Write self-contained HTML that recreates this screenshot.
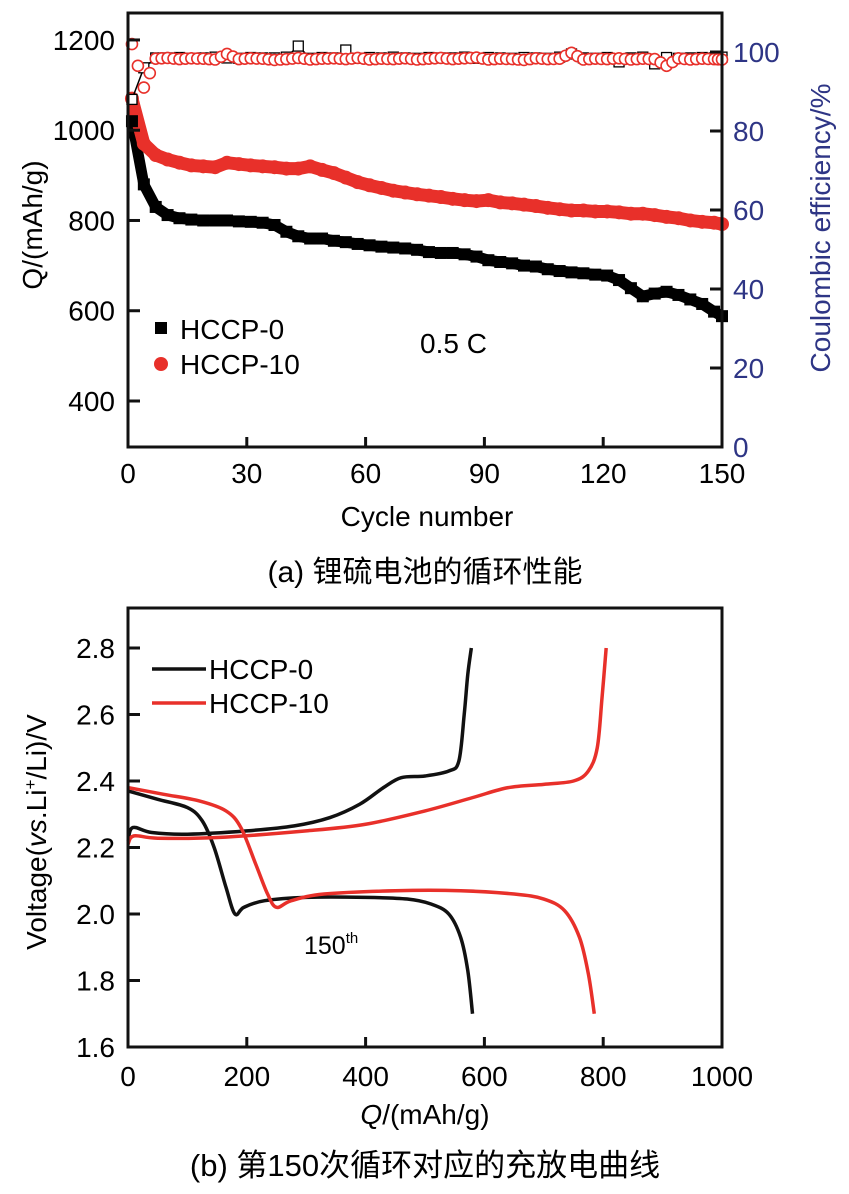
<!DOCTYPE html>
<html><head><meta charset="utf-8"><style>
body{margin:0;background:#fff;}
svg{display:block;font-family:"Liberation Sans","Noto Sans CJK SC",sans-serif;}
</style></head><body>
<svg id="s" width="849" height="1194" viewBox="0 0 849 1194"></svg>
<script>
// ---- chart (a) data ----
const cycles=[1,4,7,10,13,16,19,22,25,28,31,34,37,40,43,46,49,52,55,58,61,64,67,70,73,76,79,82,85,88,91,94,97,100,103,106,109,112,115,118,121,124,127,130,133,136,139,142,145,148,150];
const qHccp0=[1020,880,830,812,805,802,800,800,800,798,797,795,790,775,765,760,760,755,752,748,745,742,740,738,735,730,728,728,725,720,712,708,705,700,698,692,688,685,683,680,678,668,650,632,638,642,635,625,615,598,588];
const qHccp10=[1070,970,945,935,928,922,920,918,928,925,922,920,918,915,915,920,912,905,895,885,878,872,866,862,858,855,852,848,845,843,845,840,838,835,832,828,825,822,822,820,820,818,815,815,812,808,805,800,797,795,792];
const ceHccp0=[88,96,98.5,98.5,98.6,98.4,98.5,98.7,98.5,98.4,98.6,98.5,98.5,98.7,101.5,98.4,98.6,98.5,100.5,98.4,98.6,98.5,98.7,98.5,98.4,98.6,98.5,98.5,98.7,98.4,98.6,98.5,98.4,98.6,98.5,98.4,98.7,99.5,98.5,98.4,98.6,97.5,98.5,98.7,97,98.6,98.4,98.5,98.6,98.5,98.7];
const ceHccp10=[102,91,98.3,98.5,98.2,98.4,98.3,98.1,99.5,98.2,98.4,98.3,98,98.2,98.5,98.1,98.3,98.4,98.2,98.5,98.1,98.3,98.2,98.4,98.1,98.3,98.5,98.2,98.4,98.6,98.1,98.3,98.2,98.0,98.4,98.2,98.3,99.8,98.1,98.3,98.2,98.4,98.1,98.3,98.2,96.5,98.4,98.1,98.3,98.2,98.1];
const xTicksA=[0,30,60,90,120,150];
const yTicksA=[400,600,800,1000,1200];
const y2TicksA=[0,20,40,60,80,100];
// ---- chart (b) data ----
const h0Dis=[[0,2.37],[50,2.345],[100,2.32],[125,2.28],[145,2.2],[165,2.08],[180,2.0],[195,2.02],[230,2.04],[300,2.05],[400,2.05],[470,2.045],[510,2.03],[540,2.0],[560,1.93],[572,1.83],[580,1.7]];
const h0Chg=[[0,2.22],[8,2.26],[40,2.245],[100,2.24],[200,2.25],[280,2.265],[340,2.29],[390,2.33],[430,2.38],[460,2.41],[500,2.415],[540,2.43],[557,2.46],[566,2.6],[572,2.72],[578,2.8]];
const h10Dis=[[0,2.38],[60,2.36],[120,2.34],[165,2.31],[190,2.26],[215,2.15],[235,2.06],[250,2.02],[275,2.04],[330,2.06],[450,2.07],[560,2.07],[650,2.06],[700,2.045],[735,2.01],[760,1.93],[775,1.82],[785,1.7]];
const h10Chg=[[0,2.21],[10,2.235],[50,2.228],[150,2.23],[300,2.25],[400,2.27],[500,2.31],[580,2.35],[640,2.38],[700,2.39],[750,2.4],[775,2.43],[790,2.5],[798,2.65],[805,2.8]];
const xTicksB=[0,200,400,600,800,1000];
const yTicksB=[1.6,1.8,2.0,2.2,2.4,2.6,2.8];

const NS="http://www.w3.org/2000/svg",svg=document.getElementById('s');
function el(t,a,txt){const e=document.createElementNS(NS,t);for(const k in a)e.setAttribute(k,a[k]);if(txt!==undefined)e.textContent=txt;svg.appendChild(e);return e;}
const FS=28;
const xA=c=>128+c/150*594, yA=q=>401-(q-400)*0.4513, y2A=v=>447-v*3.95;
const xB=q=>128+q/1000*594, yB=v=>1047-(v-1.6)*332.5;

let e;
e=el('polyline',{points:cycles.map((c,i)=>xA(c)+','+yA(qHccp0[i])).join(' '),fill:'none',stroke:'#000','stroke-width':11});

e=el('polyline',{points:cycles.map((c,i)=>xA(c)+','+yA(qHccp10[i])).join(' '),fill:'none',stroke:'#e8302a','stroke-width':13});

cycles.forEach((c,i)=>{
 e=el('rect',{x:xA(c)-6,y:yA(qHccp0[i])-6,width:12,height:12,fill:'#000'});
 
 e=el('circle',{cx:xA(c),cy:yA(qHccp10[i]),r:7,fill:'#e8302a'});
 
});
e=el('polyline',{points:cycles.map((c,i)=>xA(c)+','+y2A(ceHccp0[i])).join(' '),fill:'none',stroke:'#000','stroke-width':1.5});

cycles.forEach((c,i)=>{
 e=el('rect',{x:xA(c)-5,y:y2A(ceHccp0[i])-5,width:10,height:10,fill:'#fff',stroke:'#000','stroke-width':1.3});
 
});
cycles.forEach((c,i)=>{
 e=el('circle',{cx:xA(c),cy:y2A(ceHccp10[i]),r:5.5,fill:'#fff',stroke:'#e8302a','stroke-width':1.6});
 
 if(i<cycles.length-1){e=el('circle',{cx:(xA(c)+xA(cycles[i+1]))/2,cy:(y2A(ceHccp10[i])+y2A(ceHccp10[i+1]))/2,r:5.5,fill:'#fff',stroke:'#e8302a','stroke-width':1.6});
 }
});
e=el('rect',{x:128,y:13,width:594,height:434,fill:'none',stroke:'#111','stroke-width':3});

xTicksA.forEach(t=>{el('line',{x1:xA(t),x2:xA(t),y1:447,y2:437,stroke:'#111','stroke-width':3});
 e=el('text',{x:xA(t),y:483,'font-size':FS,'text-anchor':'middle'},t);});
yTicksA.forEach(t=>{el('line',{x1:128,x2:140,y1:yA(t),y2:yA(t),stroke:'#111','stroke-width':3});
 e=el('text',{x:115,y:yA(t)+10,'font-size':FS,'text-anchor':'end'},t);});
y2TicksA.forEach(t=>{el('line',{x1:722,x2:710,y1:y2A(t),y2:y2A(t),stroke:'#111','stroke-width':3});
 e=el('text',{x:733,y:y2A(t)+10,'font-size':FS,fill:'#2e3585'},t);});
e=el('text',{x:427,y:526,'font-size':FS,'text-anchor':'middle'},'Cycle number');
e=el('text',{x:0,y:0,'font-size':FS,'text-anchor':'middle',transform:'translate(42,225) rotate(-90)'},'Q/(mAh/g)');
e=el('text',{x:0,y:0,'font-size':FS,'text-anchor':'middle',fill:'#2e3585',transform:'translate(830,228) rotate(-90)'},'Coulombic efficiency/%');
e=el('rect',{x:155,y:322,width:12,height:12,fill:'#000'});
e=el('text',{x:180,y:339,'font-size':FS},'HCCP-0');
e=el('circle',{cx:161,cy:364,r:7,fill:'#e8302a'});
e=el('text',{x:180,y:374,'font-size':FS},'HCCP-10');
e=el('text',{x:420,y:353,'font-size':FS},'0.5 C');
e=el('text',{x:425,y:582,'font-size':30,'text-anchor':'middle'},'(a) 锂硫电池的循环性能');

// ===== chart (b) =====
function smooth(a){const p=a.map(q=>[xB(q[0]),yB(q[1])]);let d='M'+p[0][0]+','+p[0][1];
 for(let i=0;i<p.length-1;i++){const p0=p[i-1]||p[i],p1=p[i],p2=p[i+1],p3=p[i+2]||p2;const k=1/6;
 d+=' C'+(p1[0]+(p2[0]-p0[0])*k)+','+(p1[1]+(p2[1]-p0[1])*k)+' '+(p2[0]-(p3[0]-p1[0])*k)+','+(p2[1]-(p3[1]-p1[1])*k)+' '+p2[0]+','+p2[1];}
 return d;}
[[h0Dis,'#111','hccp0-discharge-curve'],[h0Chg,'#111','hccp0-charge-curve'],[h10Dis,'#e8302a','hccp10-discharge-curve'],[h10Chg,'#e8302a','hccp10-charge-curve']].forEach(s=>{
 e=el('path',{d:smooth(s[0]),fill:'none',stroke:s[1],'stroke-width':3.5,'stroke-linejoin':'round'});
 });
e=el('rect',{x:128,y:608,width:594,height:439,fill:'none',stroke:'#111','stroke-width':3});

xTicksB.forEach(t=>{el('line',{x1:xB(t),x2:xB(t),y1:1047,y2:1037,stroke:'#111','stroke-width':3});
 e=el('text',{x:xB(t),y:1086,'font-size':FS,'text-anchor':'middle'},t);});
yTicksB.forEach(t=>{el('line',{x1:128,x2:140,y1:yB(t),y2:yB(t),stroke:'#111','stroke-width':3});
 e=el('text',{x:115,y:yB(t)+10,'font-size':FS,'text-anchor':'end'},t.toFixed(1));});
e=el('text',{x:425,y:1124,'font-size':FS,'text-anchor':'middle'});e.innerHTML='<tspan font-style="italic">Q</tspan>/(mAh/g)';
e=el('text',{x:0,y:0,'font-size':FS,'text-anchor':'middle',transform:'translate(46,832) rotate(-90)'});e.innerHTML='Voltage(<tspan font-style="italic">vs</tspan>.Li<tspan font-size="17" dy="-10">+</tspan><tspan dy="10">/Li)/V</tspan>';
e=el('line',{x1:152,x2:206,y1:669,y2:669,stroke:'#111','stroke-width':3.5});
e=el('text',{x:209,y:679,'font-size':FS},'HCCP-0');
e=el('line',{x1:152,x2:206,y1:703,y2:703,stroke:'#e8302a','stroke-width':3.5});
e=el('text',{x:209,y:713,'font-size':FS},'HCCP-10');
e=el('text',{x:304,y:954,'font-size':25});e.innerHTML='150<tspan font-size="15" dy="-11">th</tspan>';
e=el('text',{x:425,y:1176,'font-size':31,'text-anchor':'middle'},'(b) 第150次循环对应的充放电曲线');
</script>
</body></html>
